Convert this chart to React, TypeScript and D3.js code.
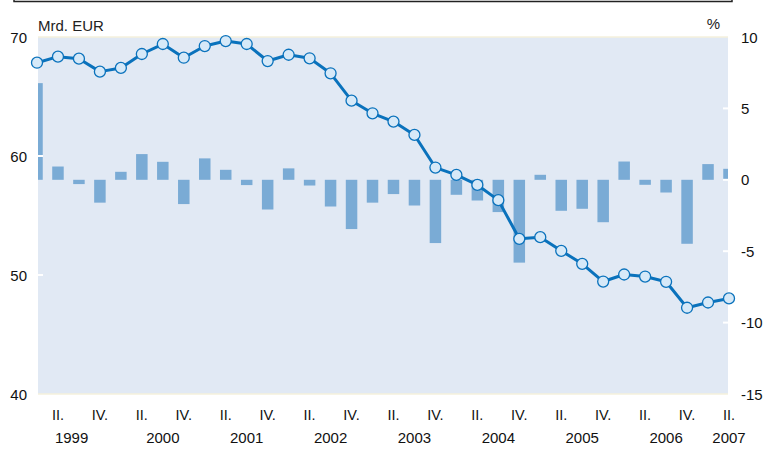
import React from "react";
import * as d3 from "d3";

// Quarterly data, 1999 Q1 .. 2007 Q2
const years = [1999, 2000, 2001, 2002, 2003, 2004, 2005, 2006, 2007];
const quarterNames = ["I.", "II.", "III.", "IV."];

// line: Mrd. EUR (left axis)
const volume = [
  67.84, 68.35, 68.18, 67.09, 67.4, 68.57, 69.41, 68.26, 69.24, 69.66, 69.41,
  67.98, 68.51, 68.21, 66.95, 64.65, 63.59, 62.89, 61.77, 59.03, 58.41, 57.57,
  56.29, 53.04, 53.18, 52.03, 50.94, 49.45, 50.04, 49.87, 49.43, 47.25, 47.69,
  48.03,
];

// bars: % change (right axis)
const change = [
  6.77, 0.93, -0.3, -1.6, 0.56, 1.8, 1.26, -1.7, 1.5, 0.7, -0.37, -2.08, 0.8,
  -0.4, -1.87, -3.45, -1.6, -1.0, -1.8, -4.43, -1.05, -1.45, -2.26, -5.8, 0.35,
  -2.17, -2.03, -2.97, 1.28, -0.35, -0.89, -4.48, 1.1, 0.77,
];

const leftTicks = [70, 60, 50, 40];
const rightTicks = [10, 5, 0, -5, -10, -15];

const W = 763;
const H = 450;
const plot = { left: 38, right: 728, top: 37, bottom: 394 };
const font = "'Liberation Sans', Arial, sans-serif";

const App = () => {
  const x = d3.scaleLinear().domain([0, volume.length - 1]).range([37, 729]);
  const yL = d3.scaleLinear().domain([40, 70]).range([plot.bottom, plot.top]);
  const yR = d3.scaleLinear().domain([-15, 10]).range([plot.bottom, plot.top]);
  const barW = 11.5;

  const line = d3
    .line<number>()
    .x((_, i) => x(i))
    .y((d) => yL(d));

  // quarter labels (II. and IV. only) and year labels
  const qLabels: { i: number; text: string }[] = [];
  volume.forEach((_, i) => {
    const q = i % 4;
    if (q === 1 || q === 3) qLabels.push({ i, text: quarterNames[q] });
  });
  const yearPos = (yr: number, k: number) => {
    if (k === 0) return x(1.65);
    const idx = k * 4 + 2;
    return x(Math.min(idx, volume.length - 1));
  };

  return (
    <svg
      width={W}
      height={H}
      style={{ position: "absolute", left: 0, top: 0, background: "#fff" }}
      fontFamily={font}
    >
      <defs>
        <clipPath id="plotClip">
          <rect
            x={plot.left}
            y={plot.top}
            width={plot.right - plot.left}
            height={plot.bottom - plot.top}
          />
        </clipPath>
      </defs>

      {/* frame edge at the top */}
      <path d="M14,0 V1.5 H732 V0" fill="none" stroke="#222" strokeWidth={1.5} />

      {/* plot background */}
      <rect
        x={plot.left}
        y={plot.top}
        width={plot.right - plot.left}
        height={plot.bottom - plot.top}
        fill="#e1e9f4"
      />
      <line x1={plot.left} x2={plot.right} y1={plot.top} y2={plot.top} stroke="#f4f1dc" strokeWidth={1.5} />
      <line x1={plot.left} x2={plot.right} y1={plot.bottom} y2={plot.bottom} stroke="#f4f1dc" strokeWidth={1.5} />

      {/* bars */}
      <g clipPath="url(#plotClip)">
        {change.map((v, i) => (
          <rect
            key={i}
            x={x(i) - barW / 2}
            y={Math.min(yR(v), yR(0))}
            width={barW}
            height={Math.abs(yR(v) - yR(0))}
            fill="#7aabd5"
          />
        ))}
      </g>

      {/* white ticks inside plot */}
      {leftTicks
        .filter((t) => t !== 70 && t !== 40)
        .map((t) => (
          <line key={"lt" + t} x1={plot.left} x2={plot.left + 5} y1={yL(t)} y2={yL(t)} stroke="#fff" strokeWidth={2} />
        ))}
      {rightTicks
        .filter((t) => t !== 10 && t !== -15)
        .map((t) => (
          <line key={"rt" + t} x1={plot.right - 5} x2={plot.right} y1={yR(t)} y2={yR(t)} stroke="#fff" strokeWidth={2} />
        ))}

      {/* line with markers */}
      <path d={line(volume) || ""} fill="none" stroke="#0a72bc" strokeWidth={3} strokeLinejoin="round" />
      {volume.map((v, i) => (
        <circle key={i} cx={x(i)} cy={yL(v)} r={5.5} fill="#d6e9f8" stroke="#0a72bc" strokeWidth={1.3} />
      ))}

      {/* axis titles */}
      <text x={38} y={31} fontSize={15} fill="#222">
        Mrd. EUR
      </text>
      <text x={720} y={29} fontSize={15} fill="#222" textAnchor="end">
        %
      </text>

      {/* left tick labels */}
      {leftTicks.map((t) => (
        <text key={t} x={27} y={yL(t) + 5.5} fontSize={15} textAnchor="end" fill="#111">
          {t}
        </text>
      ))}
      {/* right tick labels */}
      {rightTicks.map((t) => (
        <text key={t} x={741} y={yR(t) + 5.5} fontSize={15} fill="#111">
          {t}
        </text>
      ))}

      {/* x labels */}
      {qLabels.map((d) => (
        <text key={d.i} x={x(d.i)} y={420} fontSize={14.5} textAnchor="middle" fill="#111">
          {d.text}
        </text>
      ))}
      {years.map((yr, k) => (
        <text key={yr} x={yearPos(yr, k)} y={443} fontSize={15} textAnchor="middle" fill="#111">
          {yr}
        </text>
      ))}
    </svg>
  );
};

export default App;
